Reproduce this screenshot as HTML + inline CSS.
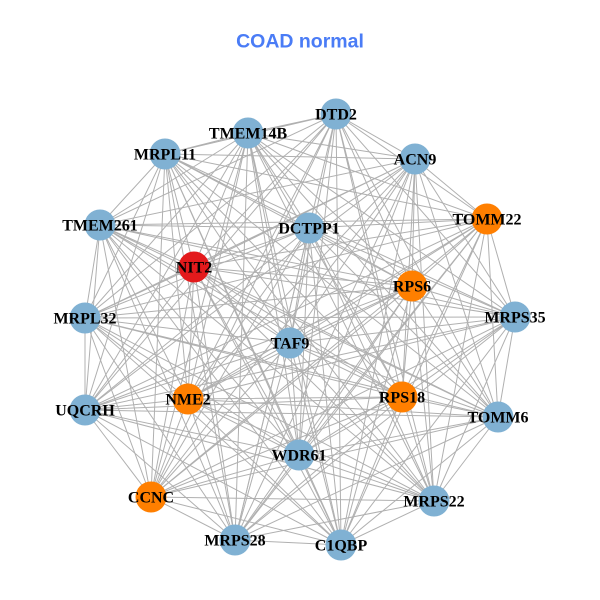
<!DOCTYPE html>
<html>
<head>
<meta charset="utf-8">
<style>
html,body{margin:0;padding:0;background:#fff;}
svg{display:block;}
</style>
</head>
<body>
<svg width="600" height="600" viewBox="0 0 600 600" xmlns="http://www.w3.org/2000/svg">
<rect width="600" height="600" fill="#fff"/>
<text x="300" y="47.5" text-anchor="middle" font-family="'Liberation Sans', sans-serif" font-weight="bold" font-size="19.5" fill="#4a7cf6">COAD normal</text>
<g stroke="#b0b0b0" stroke-width="1" fill="none">
<path d="M336 114L248 133M336 114L165 154M336 114L415 159M336 114L487 219M336 114L100 225M336 114L309 228M336 114L194 267M336 114L412 286M336 114L85 318M336 114L515 317M336 114L290 343M336 114L188 399M336 114L402 397M336 114L85 410M336 114L498 417M336 114L299 455M336 114L151 497M336 114L434 501M336 114L235 540M336 114L341 545"/>
<path d="M248 133L165 154M248 133L415 159M248 133L487 219M248 133L100 225M248 133L309 228M248 133L194 267M248 133L412 286M248 133L85 318M248 133L515 317M248 133L290 343M248 133L188 399M248 133L402 397M248 133L85 410M248 133L498 417M248 133L299 455M248 133L151 497M248 133L434 501M248 133L235 540M248 133L341 545"/>
<path d="M165 154L415 159M165 154L487 219M165 154L100 225M165 154L309 228M165 154L194 267M165 154L412 286M165 154L85 318M165 154L515 317M165 154L290 343M165 154L188 399M165 154L402 397M165 154L85 410M165 154L498 417M165 154L299 455M165 154L151 497M165 154L434 501M165 154L235 540M165 154L341 545"/>
<path d="M415 159L487 219M415 159L100 225M415 159L309 228M415 159L194 267M415 159L412 286M415 159L85 318M415 159L515 317M415 159L290 343M415 159L188 399M415 159L402 397M415 159L85 410M415 159L498 417M415 159L299 455M415 159L151 497M415 159L434 501M415 159L235 540M415 159L341 545"/>
<path d="M487 219L100 225M487 219L309 228M487 219L194 267M487 219L412 286M487 219L85 318M487 219L515 317M487 219L290 343M487 219L188 399M487 219L402 397M487 219L85 410M487 219L498 417M487 219L299 455M487 219L151 497M487 219L434 501M487 219L235 540M487 219L341 545"/>
<path d="M100 225L309 228M100 225L194 267M100 225L412 286M100 225L85 318M100 225L515 317M100 225L290 343M100 225L188 399M100 225L402 397M100 225L85 410M100 225L498 417M100 225L299 455M100 225L151 497M100 225L434 501M100 225L235 540M100 225L341 545"/>
<path d="M309 228L194 267M309 228L412 286M309 228L85 318M309 228L515 317M309 228L290 343M309 228L188 399M309 228L402 397M309 228L85 410M309 228L498 417M309 228L299 455M309 228L151 497M309 228L434 501M309 228L235 540M309 228L341 545"/>
<path d="M194 267L412 286M194 267L85 318M194 267L515 317M194 267L290 343M194 267L188 399M194 267L402 397M194 267L85 410M194 267L498 417M194 267L299 455M194 267L151 497M194 267L434 501M194 267L235 540M194 267L341 545"/>
<path d="M412 286L85 318M412 286L515 317M412 286L290 343M412 286L188 399M412 286L402 397M412 286L85 410M412 286L498 417M412 286L299 455M412 286L151 497M412 286L434 501M412 286L235 540M412 286L341 545"/>
<path d="M85 318L515 317M85 318L290 343M85 318L188 399M85 318L402 397M85 318L85 410M85 318L498 417M85 318L299 455M85 318L151 497M85 318L434 501M85 318L235 540M85 318L341 545"/>
<path d="M515 317L290 343M515 317L188 399M515 317L402 397M515 317L85 410M515 317L498 417M515 317L299 455M515 317L151 497M515 317L434 501M515 317L235 540M515 317L341 545"/>
<path d="M290 343L188 399M290 343L402 397M290 343L85 410M290 343L498 417M290 343L299 455M290 343L151 497M290 343L434 501M290 343L235 540M290 343L341 545"/>
<path d="M188 399L402 397M188 399L85 410M188 399L498 417M188 399L299 455M188 399L151 497M188 399L434 501M188 399L235 540M188 399L341 545"/>
<path d="M402 397L85 410M402 397L498 417M402 397L299 455M402 397L151 497M402 397L434 501M402 397L235 540M402 397L341 545"/>
<path d="M85 410L498 417M85 410L299 455M85 410L151 497M85 410L434 501M85 410L235 540M85 410L341 545"/>
<path d="M498 417L299 455M498 417L151 497M498 417L434 501M498 417L235 540M498 417L341 545"/>
<path d="M299 455L151 497M299 455L434 501M299 455L235 540M299 455L341 545"/>
<path d="M151 497L434 501M151 497L235 540M151 497L341 545"/>
<path d="M434 501L235 540M434 501L341 545"/>
<path d="M235 540L341 545"/>
</g>
<g stroke="none">
<circle cx="336" cy="114" r="15.5" fill="#80b1d3"/>
<circle cx="248" cy="133" r="15.5" fill="#80b1d3"/>
<circle cx="165" cy="154" r="15.5" fill="#80b1d3"/>
<circle cx="415" cy="159" r="15.5" fill="#80b1d3"/>
<circle cx="487" cy="219" r="15.5" fill="#ff7f00"/>
<circle cx="100" cy="225" r="15.5" fill="#80b1d3"/>
<circle cx="309" cy="228" r="15.5" fill="#80b1d3"/>
<circle cx="194" cy="267" r="15.5" fill="#e31a1c"/>
<circle cx="412" cy="286" r="15.5" fill="#ff7f00"/>
<circle cx="85" cy="318" r="15.5" fill="#80b1d3"/>
<circle cx="515" cy="317" r="15.5" fill="#80b1d3"/>
<circle cx="290" cy="343" r="15.5" fill="#80b1d3"/>
<circle cx="188" cy="399" r="15.5" fill="#ff7f00"/>
<circle cx="402" cy="397" r="15.5" fill="#ff7f00"/>
<circle cx="85" cy="410" r="15.5" fill="#80b1d3"/>
<circle cx="498" cy="417" r="15.5" fill="#80b1d3"/>
<circle cx="299" cy="455" r="15.5" fill="#80b1d3"/>
<circle cx="151" cy="497" r="15.5" fill="#ff7f00"/>
<circle cx="434" cy="501" r="15.5" fill="#80b1d3"/>
<circle cx="235" cy="540" r="15.5" fill="#80b1d3"/>
<circle cx="341" cy="545" r="15.5" fill="#80b1d3"/>
</g>
<g font-family="'Liberation Serif', serif" font-weight="bold" font-size="16" fill="#000" text-anchor="middle">
<text x="336" y="119.3">DTD2</text>
<text x="248" y="138.3">TMEM14B</text>
<text x="165" y="159.3">MRPL11</text>
<text x="415" y="164.3">ACN9</text>
<text x="487" y="224.3">TOMM22</text>
<text x="100" y="230.3">TMEM261</text>
<text x="309" y="233.3">DCTPP1</text>
<text x="194" y="272.3">NIT2</text>
<text x="412" y="291.3">RPS6</text>
<text x="85" y="323.3">MRPL32</text>
<text x="515" y="322.3">MRPS35</text>
<text x="290" y="348.3">TAF9</text>
<text x="188" y="404.3">NME2</text>
<text x="402" y="402.3">RPS18</text>
<text x="85" y="415.3">UQCRH</text>
<text x="498" y="422.3">TOMM6</text>
<text x="299" y="460.3">WDR61</text>
<text x="151" y="502.3">CCNC</text>
<text x="434" y="506.3">MRPS22</text>
<text x="235" y="545.3">MRPS28</text>
<text x="341" y="550.3">C1QBP</text>
</g>
</svg>
</body>
</html>
